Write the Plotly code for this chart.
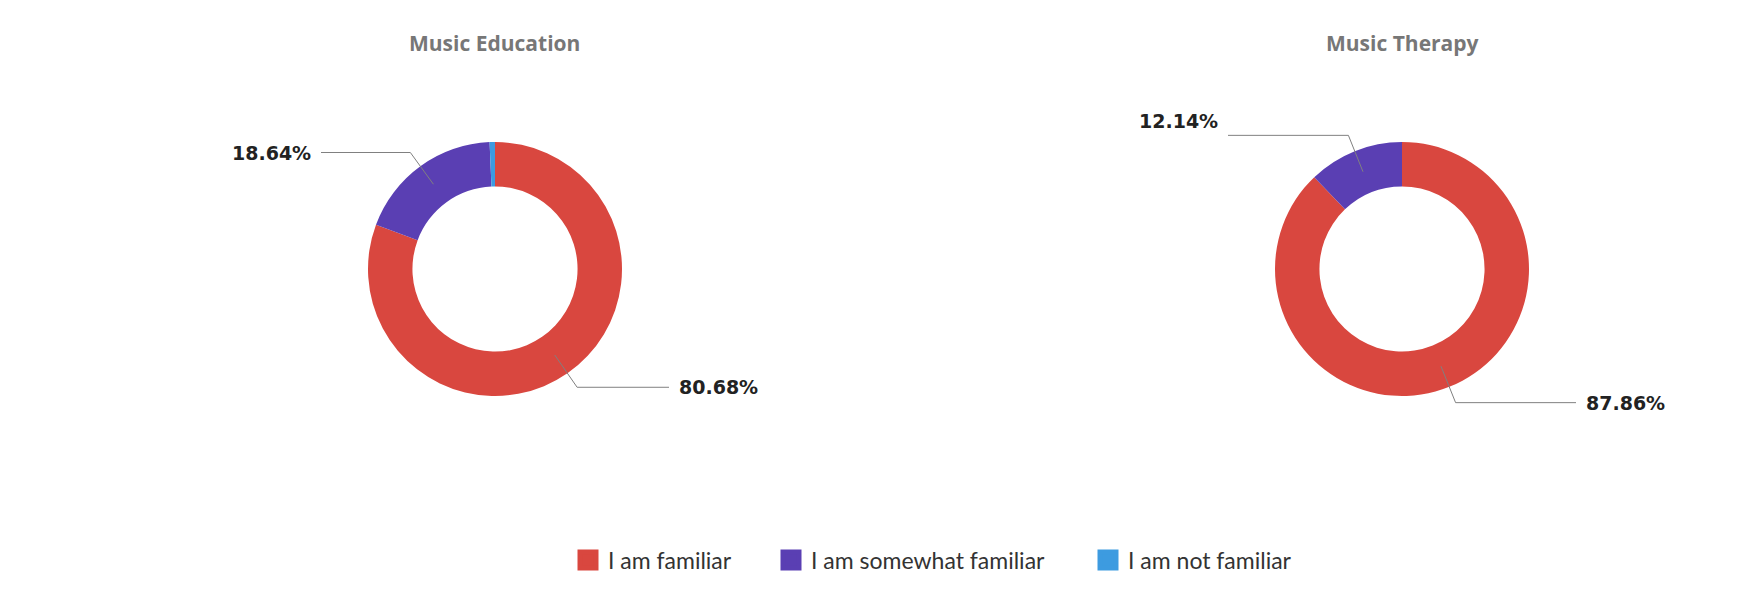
import math
import plotly.graph_objects as go

# ---- data ----
categories = ["I am familiar", "I am somewhat familiar", "I am not familiar"]
education = [80.68, 18.64, 0.68]
therapy = [87.86, 12.14, 0.0]
titles = ["Music Education", "Music Therapy"]

# ---- style / layout ----
W, H = 1744, 596
colors = ["#d9473f", "#5a3fb3", "#3d9be0"]
centers = [(495, 269), (1402, 269)]   # donut centres in px
R = 127                                 # outer radius px
HOLE = 0.65
BEND_R = 144
LABEL_DX = 174
label_yshift = {(1, 1): 14}
legend_x_px = [568, 771, 1088]          # left edge of each legend entry

def px(x):
    return x / W

def py(y):
    return 1 - y / H

fig = go.Figure()
series = [education, therapy]
shapes = []
annotations = []
for i, (vals, title, (cx, cy)) in enumerate(zip(series, titles, centers)):
    fig.add_trace(go.Pie(
        labels=categories, values=vals, hole=HOLE, sort=False,
        direction="clockwise", rotation=0,
        marker=dict(colors=colors, line=dict(width=0)),
        textinfo="none", hoverinfo="label+percent",
        domain=dict(x=[px(cx - R), px(cx + R)], y=[py(cy + R), py(cy - R)]),
        showlegend=False,
    ))
    annotations.append(dict(
        text="<b>" + title + "</b>", x=px(cx), y=py(43), xref="paper", yref="paper",
        showarrow=False, xanchor="center", yanchor="middle",
        font=dict(family="Open Sans", size=21, color="#777777"),
    ))
    total = sum(vals)
    cum = 0.0
    rmid = R * (1 + HOLE) / 2
    for j, v in enumerate(vals):
        if v / total < 0.05:
            cum += v
            continue
        th = 2 * math.pi * (cum + v / 2) / total
        cum += v
        x0, y0 = cx + rmid * math.sin(th), cy - rmid * math.cos(th)
        x1, y1 = cx + BEND_R * math.sin(th), cy - BEND_R * math.cos(th)
        side = 1 if math.sin(th) >= 0 else -1
        x2 = cx + side * LABEL_DX
        shapes.append(dict(
            type="path", xref="paper", yref="paper",
            path=f"M {px(x0)},{py(y0)} L {px(x1)},{py(y1)} L {px(x2)},{py(y1)}",
            line=dict(color="#808080", width=1),
        ))
        annotations.append(dict(
            text=f"<b>{v:.2f}%</b>", x=px(x2 + side * 8), y=py(y1 - label_yshift.get((i, j), 0)),
            xref="paper", yref="paper", showarrow=False,
            xanchor="left" if side > 0 else "right", yanchor="middle",
            font=dict(family="DejaVu Sans", size=19, color="#222222"),
        ))

# legend entries (one per category, same colours as the slices), each in its own legend box
legend_layout = {}
for k, (cat, col) in enumerate(zip(categories, colors)):
    lname = "legend" if k == 0 else f"legend{k + 1}"
    fig.add_trace(go.Scatter(
        x=[None], y=[None], mode="markers", name=cat, legend=lname,
        marker=dict(symbol="square", size=16, color=col, line=dict(color=col, width=8)),
        hoverinfo="skip", showlegend=True,
    ))
    legend_layout[lname] = dict(
        orientation="h", x=px(legend_x_px[k]), y=py(560), xanchor="left", yanchor="middle",
        font=dict(family="Lato", size=23, color="#333333"),
        itemsizing="trace", itemwidth=30, bgcolor="rgba(0,0,0,0)",
    )

fig.update_layout(
    width=W, height=H,
    margin=dict(l=0, r=0, t=0, b=0),
    paper_bgcolor="white", plot_bgcolor="white",
    xaxis=dict(visible=False), yaxis=dict(visible=False),
    shapes=shapes, annotations=annotations,
    **legend_layout,
)

fig.write_html("out.html")
